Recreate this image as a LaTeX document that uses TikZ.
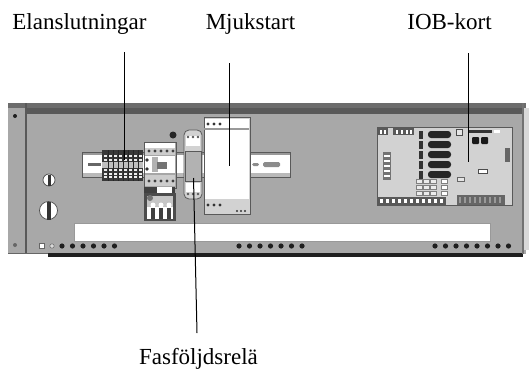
\documentclass[tikz,border=0pt]{standalone}
\usepackage{fontspec}
\setmainfont{Liberation Serif}
\definecolor{pan}{gray}{0.66}
\definecolor{dk}{gray}{0.12}
\definecolor{md}{gray}{0.35}
\tikzset{
  lbl/.style={font=\fontsize{23}{26}\selectfont,inner sep=0pt,text=black,anchor=base},
  leader/.style={draw=black,line width=1pt},
  hole/.style={fill=dk,draw=none}
}
\begin{document}
\begin{tikzpicture}[x=1pt,y=-1pt]
\useasboundingbox (0,0) rectangle (529,369);
% panel
\fill[pan] (8,103) rectangle (526,254);
\fill[gray!85!black] (8,103) rectangle (526,108);
\fill[black!65] (26,108) rectangle (523,114);
\fill[dk] (48,253) rectangle (523,257);
\fill[black!60] (8,253) rectangle (48,254);
\draw[md,line width=1.2pt] (26,103) -- (26,253);
\draw[black!55,line width=1.2pt] (523,103) -- (523,254);
\fill[gray!30] (524,108) rectangle (529,250);
\fill[dk] (15,116) circle (2);
\fill[black!60] (15,245) circle (2);
% rail
\fill[white] (82,155) rectangle (290,173);
\fill[gray!80] (82,152) rectangle (290,155);
\fill[gray!55] (82,173) rectangle (290,177);
\draw[md,line width=0.6pt] (82,152) rectangle (290,177);
\fill[black!60] (88,163) rectangle (101,166);
\fill[black!45,rounded corners=1.5pt] (263,162) rectangle (280,167);
\fill[black!45,rounded corners=1.5pt] (252,163) rectangle (259,166);
% mounting screws
\fill[white] (49,180) circle (6);
\draw[black!70,line width=0.7pt] (49,180) circle (6);
\fill[black!80] (48,174.5) rectangle (50.5,185.5);
\fill[white] (48.5,210.5) circle (9);
\draw[black!70,line width=0.7pt] (48.5,210.5) circle (9);
\fill[black!80] (47,201.5) rectangle (51,219.5);
\fill[black!85] (173,135) circle (3.5);
% terminal block
\fill[black!78] (102,150) rectangle (143,181);
\fill[gray!50] (102,162) rectangle (143,168);
\foreach \yy in {155,158.5,169,172.5,176}{\foreach \xx in {104,109,...,139}{\fill[white!85!gray] (\xx,\yy) rectangle (\xx+3,\yy+2);}}
\foreach \xx in {108,113,...,138}{\draw[black!85,line width=0.8pt] (\xx,150) -- (\xx,181);}
% contactor
\fill[gray!70] (144,142) rectangle (176,188);
\draw[md,line width=0.9pt] (144,142) rectangle (176,188);
\fill[white] (145,143) rectangle (175,148);
\fill[gray!40] (145,148) rectangle (175,155);
\foreach \xx in {149,155,...,173}{\fill[black!75] (\xx,151) circle (1.6);}
\fill[white] (145,156) rectangle (175,173);
\fill[black!30] (152,157) rectangle (158,172);
\fill[black!55] (157,162) rectangle (167,169);
\fill[black!80] (147,160) circle (1.8);
\fill[black!80] (147,169) circle (1.8);
\fill[gray!40] (145,175) rectangle (175,186);
\foreach \xx in {149,155,...,173}{\fill[black!75] (\xx,181) circle (1.6);}
% contactor lower block
\fill[black!75] (144,187) rectangle (175,193);
\fill[white] (157,187) rectangle (172,193);
\fill[black!70] (144,193) rectangle (176,221);
\fill[gray!45] (147,196) rectangle (173,207);
\fill[white] (147,207) rectangle (173,219);
\foreach \xx in {151,159,167}{\fill[black!75] (\xx,208) rectangle (\xx+4,219);\fill[white] (\xx+2,205) circle (2.5);}
\fill[black!55] (150,198) circle (3);
% Fas relay
\fill[gray!35,rounded corners=5pt] (184,130) rectangle (202,199);
\draw[md,line width=0.8pt,rounded corners=5pt] (184,130) rectangle (202,199);
\fill[white] (186,136) rectangle (200,146);
\fill[white] (186,183) rectangle (200,192);
\foreach \xx in {188,193,198}{\fill[black!65] (\xx,137) circle (1.3);\fill[black!65] (\xx,194) circle (1.3);}
\fill[gray!60] (185,151) rectangle (201,181);
\draw[md,line width=0.8pt] (185,151) rectangle (201,181);
% Mjukstart
\fill[gray!35] (204,117) rectangle (250,214);
\draw[md,line width=1pt] (204,117) rectangle (250,214);
\fill[white] (205,119) rectangle (249,128);
\fill[black!40] (204,128) rectangle (249,130);
\fill[white] (205,130) rectangle (249,199);
\foreach \xx in {208,214,220}{\fill[black!80] (\xx,124) circle (1.6);\fill[black!80] (\xx,205) circle (1.6);}
\foreach \xx in {237,241,245}{\fill[black!80] (\xx,211) circle (1.2);}
% Long white strip
\fill[white] (74,223) rectangle (490,241);
\draw[gray!80,line width=0.6pt] (74,223) rectangle (490,241);
% bottom holes
\draw[black!60,fill=white,line width=0.5pt] (39.5,243.5) rectangle (44,248);
\draw[black!60,fill=gray!30,line width=0.5pt] (52,246) circle (2.2);
\foreach \xx in {62,72.5,...,115}{\fill[hole] (\xx,246) circle (2.6);}
\foreach \xx in {239,249.5,...,312}{\fill[hole] (\xx,246) circle (2.6);}
\foreach \xx in {435,445.5,...,510}{\fill[hole] (\xx,246) circle (2.6);}
% IOB board
\fill[gray!35] (377,127) rectangle (512,205);
\draw[md,line width=1pt] (377,127) rectangle (512,205);
\fill[black!65] (378,127) rectangle (388,135);
\fill[black!65] (393,127) rectangle (414,135);
\foreach \xx in {380,384,396,401,406,410}{\fill[white] (\xx,130) rectangle (\xx+2,134);}
\foreach \yy in {131,141,151,161,171}{%
  \fill[black!80] (419,\yy) rectangle (423,\yy+8);
  \fill[black!85,rounded corners=3pt] (428,\yy) rectangle (451,\yy+7);
}
\draw[black!70,fill=gray!20] (456,129) rectangle (462,135);
\fill[black!80] (468,130) rectangle (492,132.5);
\fill[white] (494,130) rectangle (500,133);
\fill[black!90,rounded corners=1pt] (472,137) rectangle (479,144);
\fill[black!90,rounded corners=1pt] (481,137) rectangle (488,144);
\fill[black!60] (505,148) rectangle (510,162);
\draw[black!70,fill=white,line width=0.5pt] (478,169) rectangle (487,173);
\draw[black!60,fill=gray!20,line width=0.5pt] (457,177) rectangle (464,181);
\fill[black!55] (383,152) rectangle (391,180);
\foreach \yy in {155,160,...,178}{\fill[white] (384,\yy) rectangle (390,\yy+1.5);}
\foreach \xx in {416,423,430}{\foreach \yy in {179,185,191}{\draw[black!50,fill=gray!15,line width=0.4pt] (\xx,\yy) rectangle (\xx+6,\yy+4);}}
\foreach \yy in {179,185,191}{\draw[black!50,fill=white,line width=0.4pt] (441,\yy) rectangle (447,\yy+4);}
\fill[black!65] (378,197) rectangle (446,205);
\foreach \xx in {380,386,...,443}{\fill[white] (\xx,199) rectangle (\xx+2.5,203);}
\fill[black!60] (457,195) rectangle (505,205);
\foreach \xx in {459,464,...,503}{\fill[gray!80] (\xx,196.5) rectangle (\xx+2,203);}
% labels
\node[lbl] (a) at (79.5,30) {Elanslutningar};
\node[lbl] (b) at (250.5,30) {Mjukstart};
\node[lbl] (c) at (449.5,30) {IOB-kort};
\node[lbl] (d) at (198.5,364) {Fasföljdsrelä};
\coordinate (a1) at (124,52); \coordinate (a2) at (124,160);
\coordinate (b1) at (229,63); \coordinate (b2) at (229,166);
\coordinate (c1) at (468,53); \coordinate (c2) at (468,162);
\coordinate (d1) at (193.5,178); \coordinate (d2) at (197,333);
\draw[leader] (a1) -- (a2);
\draw[leader] (b1) -- (b2);
\draw[leader] (c1) -- (c2);
\draw[leader] (d1) -- (d2);
\end{tikzpicture}
\end{document}
